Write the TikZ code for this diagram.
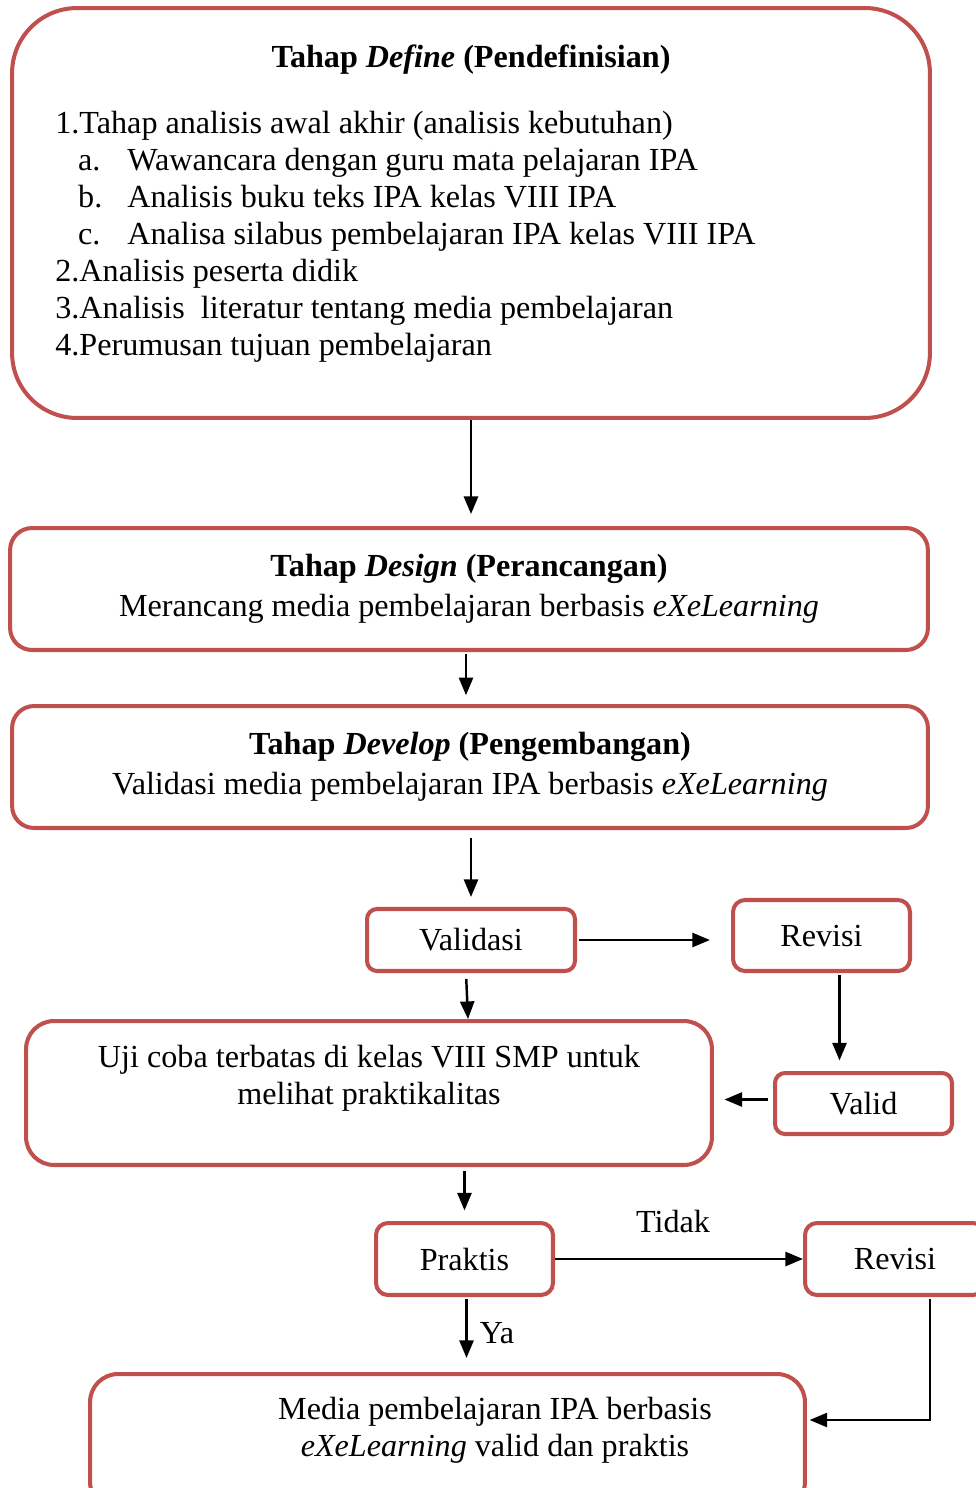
\documentclass[tikz,border=0pt]{standalone}
\usepackage{fontspec}
\setmainfont{Liberation Serif}
\usetikzlibrary{arrows.meta,calc}
\definecolor{boxred}{HTML}{C0504D}
\begin{document}
\begin{tikzpicture}[x=0.02cm,y=-0.02cm]
\tikzstyle{every node}+=[inner sep=0pt,font=\fontsize{18.3}{21}\selectfont]
\tikzstyle{box}=[draw=boxred,line width=2.3pt,align=center]
\tikzstyle{arr}=[line width=1.4pt,-{Triangle[length=10pt,width=8pt]}]
\useasboundingbox (0,0) rectangle (976,1488);
\node[box,minimum width=18.36cm,minimum height=8.2cm,rounded corners=1.3cm] (define) at (471,213) {};
\node (deftitle) at (471,60) {\textbf{Tahap \textit{Define} (Pendefinisian)}};
\node[anchor=north west,align=left] (deflist) at (55,111) {1.Tahap analisis awal akhir (analisis kebutuhan)\\
\hspace*{13pt}\makebox[28pt][l]{a.}Wawancara dengan guru mata pelajaran IPA\\
\hspace*{13pt}\makebox[28pt][l]{b.}Analisis buku teks IPA kelas VIII IPA\\
\hspace*{13pt}\makebox[28pt][l]{c.}Analisa silabus pembelajaran IPA kelas VIII IPA\\
2.Analisis peserta didik\\
3.Analisis\ \ literatur tentang media pembelajaran\\
4.Perumusan tujuan pembelajaran};
\node[box,minimum width=18.36cm,minimum height=2.44cm,rounded corners=0.44cm] (design) at (469,589)
  {\textbf{Tahap \textit{Design} (Perancangan)}\\[2pt]Merancang media pembelajaran berbasis \textit{eXeLearning}};
\node[box,minimum width=18.32cm,minimum height=2.44cm,rounded corners=0.44cm] (develop) at (470,767)
  {\textbf{Tahap \textit{Develop} (Pengembangan)}\\[2pt]Validasi media pembelajaran IPA berbasis \textit{eXeLearning}};
\node[box,minimum width=4.16cm,minimum height=1.24cm,rounded corners=0.2cm] (validasi) at (471,940) {Validasi};
\node[box,minimum width=3.54cm,minimum height=1.42cm,rounded corners=0.24cm] (revisiA) at (821.5,935.5) {Revisi};
\node[box,minimum width=13.72cm,minimum height=2.88cm,rounded corners=0.56cm] (uji) at (369,1093) {};
\node[align=center] (ujitext) at (369,1078) {Uji coba terbatas di kelas VIII SMP untuk\\melihat praktikalitas};
\node[box,minimum width=3.54cm,minimum height=1.22cm,rounded corners=0.2cm] (valid) at (863.5,1103.5) {Valid};
\node[box,minimum width=3.54cm,minimum height=1.44cm,rounded corners=0.24cm] (praktis) at (464.5,1259) {Praktis};
\node[box,minimum width=3.6cm,minimum height=1.44cm,rounded corners=0.24cm] (revisiB) at (895,1259) {Revisi};
\node[box,minimum width=14.3cm,minimum height=2.72cm,rounded corners=0.56cm] (media) at (447.5,1442) {};
\node[align=center] (mediatext) at (495,1430) {Media pembelajaran IPA berbasis\\\textit{eXeLearning} valid dan praktis};
\node (tidak) at (673,1221) {Tidak};
\node (ya) at (497,1333) {Ya};
\coordinate (designout) at ($(design.south)+(-3,0)$);
\coordinate (validasiout) at ($(validasi.south)+(-5,0)$);
\coordinate (ujiin) at ($(validasi.south)+(-3,0)$);
\coordinate (revisiAout) at ($(revisiA.south)+(18,0)$);
\coordinate (validout) at ($(valid.west)+(0,-4)$);
\coordinate (praktisout) at ($(praktis.south)+(2,0)$);
\coordinate (revisiBout) at ($(revisiB.south)+(35,0)$);
\coordinate (mediain) at ($(media.east)+(0,-22)$);
\draw[arr,shorten >=6.8pt] (define.south) -- (define.south |- design.north);
\draw[arr,shorten <=1pt,shorten >=5pt] (designout) -- (designout |- develop.north);
\draw[arr,shorten <=4.5pt,shorten >=5.7pt] (validasi.north |- develop.south) -- (validasi.north);
\draw[arr,shorten <=1pt,shorten >=12pt] (validasi.east) -- (validasi.east -| revisiA.west);
\draw[arr,shorten <=3.4pt] (validasiout) -- (ujiin |- uji.north);
\draw[arr,shorten <=1pt,shorten >=6pt] (revisiAout) -- (revisiAout |- valid.north);
\draw[arr,shorten <=3pt,shorten >=6pt] (validout) -- (validout -| uji.east);
\draw[arr,shorten <=2pt,shorten >=6pt] (praktis.north |- uji.south) -- (praktis.north);
\draw[arr] (praktis.east) -- (revisiB.west);
\draw[arr,shorten <=1pt,shorten >=8pt] (praktisout) -- (praktisout |- media.north);
\draw[arr,shorten <=1pt,shorten >=1.5pt] (revisiBout) |- (mediain);
\end{tikzpicture}
\end{document}
